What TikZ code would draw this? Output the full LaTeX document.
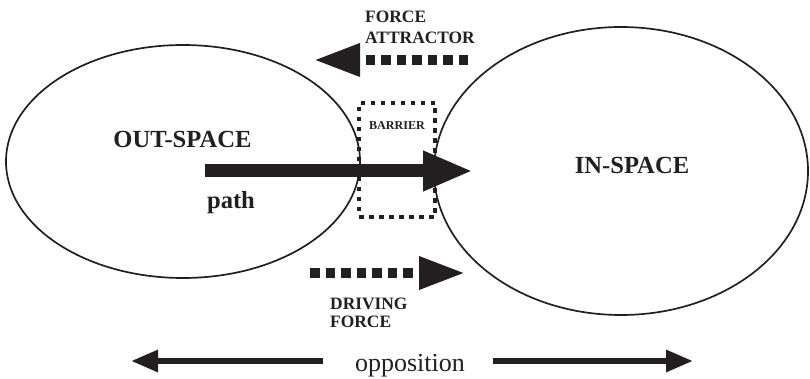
\documentclass[tikz,border=0pt]{standalone}
\usepackage{fontspec}
\setmainfont{Liberation Serif}
\usetikzlibrary{shapes.geometric,arrows.meta}
\definecolor{ink}{HTML}{231F20}
\tikzset{
  space/.style={draw=ink, line width=1.7pt, ellipse, inner sep=0pt},
  biglabel/.style={font=\fontsize{24.6}{28}\selectfont\bfseries, text=ink, inner sep=0pt},
  smalllabel/.style={font=\fontsize{17.4}{21}\selectfont\bfseries, text=ink, inner sep=0pt, align=left},
  dotarrow/.style={draw=ink, line width=9.5pt, dash pattern=on 9.5pt off 6pt,
     -{Triangle[length=46pt,width=31pt]}, color=ink},
  patharrow/.style={draw=ink, line width=13pt, -{Triangle[length=50pt,width=37pt]}, color=ink},
  opparrow/.style={draw=ink, line width=6pt, -{Triangle[length=27pt,width=21pt]}, color=ink},
  barrierbox/.style={draw=ink, line width=4.5pt, dash pattern=on 4.5pt off 5.5pt, inner sep=0pt,
     minimum width=76pt, minimum height=114pt}
}
\begin{document}
\begin{tikzpicture}[x=1pt,y=-1pt]
\useasboundingbox (0,0) rectangle (810,379);

% spaces
\node[space, minimum width=354pt, minimum height=233pt] (out) at (183,161.5) {};
\node[space, minimum width=374pt, minimum height=288pt] (in) at (621,171) {};

% barrier
\node[barrierbox] (barrier) at (397,160) {};
\node[font=\fontsize{12.1}{14}\selectfont\bfseries, text=ink, inner sep=0pt] (barriertext) at (397,126) {BARRIER};

% labels
\node[biglabel] (outlabel) at (182.5,139.5) {OUT-SPACE};
\node[biglabel] (pathlabel) at (231,202.3) {path};
\node[biglabel] (inlabel) at (632,165.5) {IN-SPACE};

% path arrow
\coordinate (pathstart) at (205,171);
\coordinate (pathend) at (473,171);
\draw[patharrow] (pathstart) -- (pathend);

% force attractor
\node[smalllabel, anchor=west] (attractor) at (365,27.5) {FORCE\\ATTRACTOR};
\coordinate (fastart) at (468,60);
\coordinate (faend) at (314,60);
\draw[dotarrow] (fastart) -- (faend);

% driving force
\node[smalllabel, anchor=west, font=\fontsize{17.4}{18}\selectfont\bfseries] (driving) at (330,313) {DRIVING\\FORCE};
\coordinate (dfstart) at (310,273);
\coordinate (dfend) at (465,273);
\draw[dotarrow] (dfstart) -- (dfend);

% opposition
\node[font=\fontsize{26}{30}\selectfont, text=ink, inner sep=0pt] (opp) at (410,366) {opposition};
\coordinate (oppleftstart) at (323,361);
\coordinate (opplefttip) at (131,361);
\coordinate (opprightstart) at (493,361);
\coordinate (opprighttip) at (693,361);
\draw[opparrow] (oppleftstart) -- (opplefttip);
\draw[opparrow] (opprightstart) -- (opprighttip);
\end{tikzpicture}
\end{document}
